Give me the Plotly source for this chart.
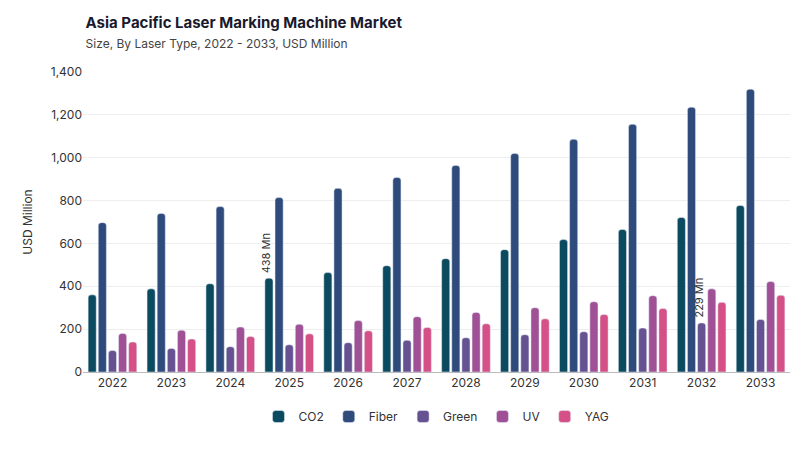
import plotly.graph_objects as go

years = list(range(2022, 2034))
co2 = [360, 388, 412, 438, 464, 496, 529, 571, 618, 665, 721, 777]
fiber = [697, 740, 772, 814, 857, 908, 964, 1020, 1086, 1156, 1236, 1320]
green = [100, 110, 118, 127, 137, 148, 160, 174, 188, 205, 229, 245]
uv = [180, 195, 210, 223, 240, 258, 278, 300, 328, 356, 388, 422]
yag = [140, 154, 166, 178, 192, 208, 225, 248, 268, 296, 325, 358]

series = [("CO2", co2, "#0c4a60"), ("Fiber", fiber, "#2f4b7c"),
          ("Green", green, "#665191"), ("UV", uv, "#a05195"), ("YAG", yag, "#d45087")]

fig = go.Figure()
for name, vals, col in series:
    fig.add_trace(go.Bar(x=years, y=vals, name=name, marker_color=col,
                         marker_cornerradius=3))

# value labels
fig.add_annotation(x=2025, y=co2[3], text="438 Mn", textangle=-90, showarrow=False,
                   xshift=-23, yanchor="bottom", yshift=3, font=dict(size=11, color="#333"))
fig.add_annotation(x=2032, y=green[10], text="229 Mn", textangle=-90, showarrow=False,
                   xshift=-3, yanchor="bottom", yshift=3, font=dict(size=11, color="#333"))

fig.update_layout(
    width=800, height=450, barmode="group", bargap=0.14, bargroupgap=0.2,
    plot_bgcolor="white", paper_bgcolor="white",
    font=dict(family="Inter", size=12, color="#333"),
    title=dict(text="<b>Asia Pacific Laser Marking Machine Market</b><br>"
                    "<span style='font-size:12px;color:#444'>Size, By Laser Type, 2022 - 2033, USD Million</span>",
               x=0.097, y=0.955, font=dict(size=15, color="#1a1a2e")),
    margin=dict(l=75, r=18, t=64, b=86),
    legend=dict(orientation="h", x=0.5, xanchor="center", y=-0.1, font=dict(size=12)),
    xaxis=dict(dtick=1, range=[2021.5, 2033.5], showline=True, linecolor="#bbb",
               tickfont=dict(size=12)),
    yaxis=dict(title=dict(text="USD Million", font=dict(size=12)), range=[0, 1400],
               dtick=200, tickformat=",", gridcolor="#eee", zeroline=False),
)
fig.write_html("out.html")
